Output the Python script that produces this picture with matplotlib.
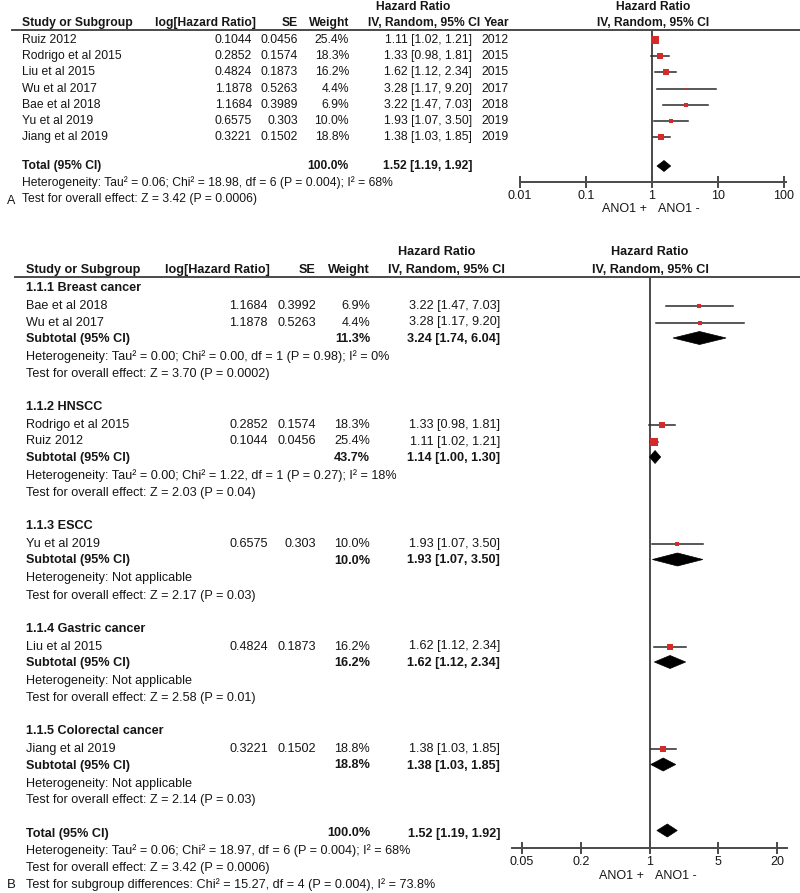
import matplotlib
matplotlib.use('Agg')
import matplotlib.pyplot as plt
import numpy as np
from matplotlib.patches import Polygon
from matplotlib.ticker import NullLocator

plt.rcParams['font.family'] = ['Liberation Sans', 'DejaVu Sans']

# ---------------- Panel A data ----------------
studies_A = ["Ruiz 2012", "Rodrigo et al 2015", "Liu et al 2015", "Wu et al 2017",
             "Bae et al 2018", "Yu et al 2019", "Jiang et al 2019"]
loghr_A = ["0.1044", "0.2852", "0.4824", "1.1878", "1.1684", "0.6575", "0.3221"]
se_A = ["0.0456", "0.1574", "0.1873", "0.5263", "0.3989", "0.303", "0.1502"]
weight_A = [25.4, 18.3, 16.2, 4.4, 6.9, 10.0, 18.8]
hr_A = [1.11, 1.33, 1.62, 3.28, 3.22, 1.93, 1.38]
lo_A = [1.02, 0.98, 1.12, 1.17, 1.47, 1.07, 1.03]
hi_A = [1.21, 1.81, 2.34, 9.20, 7.03, 3.50, 1.85]
year_A = [2012, 2015, 2015, 2017, 2018, 2019, 2019]
total_A = [1.52, 1.19, 1.92]
total_w_A = 100.0
het_A = "Heterogeneity: Tau² = 0.06; Chi² = 18.98, df = 6 (P = 0.004); I² = 68%"
z_A = "Test for overall effect: Z = 3.42 (P = 0.0006)"
ticks_A = [0.01, 0.1, 1, 10, 100]
ticklabels_A = ["0.01", "0.1", "1", "10", "100"]

# ---------------- Panel B data ----------------
groups_B = ["1.1.1 Breast cancer", "1.1.2 HNSCC", "1.1.3 ESCC",
            "1.1.4 Gastric cancer", "1.1.5 Colorectal cancer"]
names_B = [["Bae et al 2018", "Wu et al 2017"], ["Rodrigo et al 2015", "Ruiz 2012"],
           ["Yu et al 2019"], ["Liu et al 2015"], ["Jiang et al 2019"]]
loghr_B = [["1.1684", "1.1878"], ["0.2852", "0.1044"], ["0.6575"], ["0.4824"], ["0.3221"]]
se_B = [["0.3992", "0.5263"], ["0.1574", "0.0456"], ["0.303"], ["0.1873"], ["0.1502"]]
weight_B = [[6.9, 4.4], [18.3, 25.4], [10.0], [16.2], [18.8]]
hr_B = [[3.22, 3.28], [1.33, 1.11], [1.93], [1.62], [1.38]]
lo_B = [[1.47, 1.17], [0.98, 1.02], [1.07], [1.12], [1.03]]
hi_B = [[7.03, 9.20], [1.81, 1.21], [3.50], [2.34], [1.85]]
sub_w_B = [11.3, 43.7, 10.0, 16.2, 18.8]
sub_hr_B = [3.24, 1.14, 1.93, 1.62, 1.38]
sub_lo_B = [1.74, 1.00, 1.07, 1.12, 1.03]
sub_hi_B = [6.04, 1.30, 3.50, 2.34, 1.85]
sub_het_B = ["Heterogeneity: Tau² = 0.00; Chi² = 0.00, df = 1 (P = 0.98); I² = 0%",
             "Heterogeneity: Tau² = 0.00; Chi² = 1.22, df = 1 (P = 0.27); I² = 18%",
             "Heterogeneity: Not applicable",
             "Heterogeneity: Not applicable",
             "Heterogeneity: Not applicable"]
sub_z_B = ["Test for overall effect: Z = 3.70 (P = 0.0002)",
           "Test for overall effect: Z = 2.03 (P = 0.04)",
           "Test for overall effect: Z = 2.17 (P = 0.03)",
           "Test for overall effect: Z = 2.58 (P = 0.01)",
           "Test for overall effect: Z = 2.14 (P = 0.03)"]
total_B = [1.52, 1.19, 1.92]
total_w_B = 100.0
het_B = "Heterogeneity: Tau² = 0.06; Chi² = 18.97, df = 6 (P = 0.004); I² = 68%"
z_B = "Test for overall effect: Z = 3.42 (P = 0.0006)"
subdiff_B = "Test for subgroup differences: Chi² = 15.27, df = 4 (P = 0.004), I² = 73.8%"
ticks_B = [0.05, 0.2, 1, 5, 20]
ticklabels_B = ["0.05", "0.2", "1", "5", "20"]

# ---------------- Layout ----------------
W, H = 800, 893
fig = plt.figure(figsize=(W / 100, H / 100), dpi=100)
ov = fig.add_axes([0, 0, 1, 1])
ov.set_xlim(0, W)
ov.set_ylim(H, 0)
ov.axis('off')

TXT = '#161616'
LINE = '#4a4a4a'
RED = '#d42a2a'


def t(x, y, s, ha='left', bold=False, size=8.7):
    ov.text(x, y, s, ha=ha, va='center', fontsize=size,
            fontweight='bold' if bold else 'normal', color=TXT)


def fmt_ci(h, l, u):
    return f"{h:.2f} [{l:.2f}, {u:.2f}]"


def forest_axes(x0, x1, y0, y1, ticks, labels, t0px, t1px):
    ax = fig.add_axes([x0 / W, 1 - y1 / H, (x1 - x0) / W, (y1 - y0) / H])
    dec = (np.log10(ticks[-1]) - np.log10(ticks[0])) / (t1px - t0px)
    lo = 10 ** (np.log10(ticks[0]) - (t0px - x0) * dec)
    hi = 10 ** (np.log10(ticks[-1]) + (x1 - t1px) * dec)
    ax.set_xscale('log')
    ax.set_xlim(lo, hi)
    ax.set_ylim(y1, y0)
    ax.patch.set_alpha(0)
    for s in ['top', 'right', 'left']:
        ax.spines[s].set_visible(False)
    ax.spines['bottom'].set_color(LINE)
    ax.spines['bottom'].set_linewidth(1.4)
    ax.set_yticks([])
    ax.set_xticks(ticks)
    ax.set_xticklabels(labels)
    ax.xaxis.set_minor_locator(NullLocator())
    ax.tick_params(axis='x', direction='inout', length=8, width=1.4, color=LINE,
                   labelsize=9, labelcolor=TXT, pad=2)
    ax.axvline(1, color=LINE, lw=1.4, zorder=1)
    return ax


def study(ax, y, h, l, u, w, k=1.5):
    ax.plot([l, u], [y, y], color='#2a2a2a', lw=1.1, zorder=2)
    side_px = k * np.sqrt(w)
    ax.plot([h], [y], marker='s', color=RED, markersize=side_px * 0.72,
            markeredgewidth=0, zorder=3)


def diamond(ax, y, h, l, u, hh):
    ax.add_patch(Polygon([(l, y), (h, y - hh), (u, y), (h, y + hh)],
                         closed=True, facecolor='black', edgecolor='black',
                         lw=0.5, zorder=3))


# ================= Panel A =================
fsA = 8.7
t(413, 7, "Hazard Ratio", ha='center', bold=True, size=fsA)
t(653, 7, "Hazard Ratio", ha='center', bold=True, size=fsA)
hyA = 23
t(22, hyA, "Study or Subgroup", bold=True, size=fsA)
t(155, hyA, "log[Hazard Ratio]", bold=True, size=fsA)
t(298, hyA, "SE", ha='right', bold=True, size=fsA)
t(349, hyA, "Weight", ha='right', bold=True, size=fsA)
t(480, hyA, "IV, Random, 95% CI", ha='right', bold=True, size=fsA)
t(509, hyA, "Year", ha='right', bold=True, size=fsA)
t(653, hyA, "IV, Random, 95% CI", ha='center', bold=True, size=fsA)
ov.plot([12, 800], [30, 30], color=LINE, lw=1.4)

axA = forest_axes(520, 786, 30, 182, ticks_A, ticklabels_A, 520, 784)
rowsA = [40 + 16.2 * i for i in range(len(studies_A))]
for i, y in enumerate(rowsA):
    t(22, y, studies_A[i], size=fsA)
    t(252, y, loghr_A[i], ha='right', size=fsA)
    t(298, y, se_A[i], ha='right', size=fsA)
    t(349, y, f"{weight_A[i]:.1f}%", ha='right', size=fsA)
    t(472, y, fmt_ci(hr_A[i], lo_A[i], hi_A[i]), ha='right', size=fsA)
    t(509, y, str(year_A[i]), ha='right', size=fsA)
    study(axA, y, hr_A[i], lo_A[i], hi_A[i], weight_A[i], k=1.4)

yT = 166
t(22, yT, "Total (95% CI)", bold=True, size=fsA)
t(349, yT, f"{total_w_A:.1f}%", ha='right', bold=True, size=fsA)
t(472, yT, fmt_ci(*total_A), ha='right', bold=True, size=fsA)
diamond(axA, yT, total_A[0], total_A[1], total_A[2], 5.5)
t(22, 183, het_A, size=fsA)
t(22, 199, z_A, size=fsA)
t(7, 201, "A", size=9)
t(647, 209, "ANO1 +", ha='right', size=9)
t(658, 209, "ANO1 -", ha='left', size=9)

# ================= Panel B =================
fsB = 9.1
t(437, 252, "Hazard Ratio", ha='center', bold=True, size=fsB)
t(650, 252, "Hazard Ratio", ha='center', bold=True, size=fsB)
hyB = 270
t(26, hyB, "Study or Subgroup", bold=True, size=fsB)
t(165, hyB, "log[Hazard Ratio]", bold=True, size=fsB)
t(316, hyB, "SE", ha='right', bold=True, size=fsB)
t(370, hyB, "Weight", ha='right', bold=True, size=fsB)
t(505, hyB, "IV, Random, 95% CI", ha='right', bold=True, size=fsB)
t(650, hyB, "IV, Random, 95% CI", ha='center', bold=True, size=fsB)
ov.plot([15, 800], [277, 277], color=LINE, lw=1.4)

axB = forest_axes(512, 787, 277, 848, ticks_B, ticklabels_B, 522, 777)

y = 288
for g in range(len(groups_B)):
    t(26, y, groups_B[g], bold=True, size=fsB)
    y += 18
    for j in range(len(names_B[g])):
        t(26, y, names_B[g][j], size=fsB)
        t(268, y, loghr_B[g][j], ha='right', size=fsB)
        t(316, y, se_B[g][j], ha='right', size=fsB)
        t(370, y, f"{weight_B[g][j]:.1f}%", ha='right', size=fsB)
        t(500, y, fmt_ci(hr_B[g][j], lo_B[g][j], hi_B[g][j]), ha='right', size=fsB)
        study(axB, y, hr_B[g][j], lo_B[g][j], hi_B[g][j], weight_B[g][j])
        y += 16.5
    t(26, y, "Subtotal (95% CI)", bold=True, size=fsB)
    t(370, y, f"{sub_w_B[g]:.1f}%", ha='right', bold=True, size=fsB)
    t(500, y, fmt_ci(sub_hr_B[g], sub_lo_B[g], sub_hi_B[g]), ha='right', bold=True, size=fsB)
    diamond(axB, y - 1, sub_hr_B[g], sub_lo_B[g], sub_hi_B[g], 6.5)
    y += 18
    t(26, y, sub_het_B[g], size=fsB)
    y += 17
    t(26, y, sub_z_B[g], size=fsB)
    y += 33

t(26, y, "Total (95% CI)", bold=True, size=fsB)
t(370, y, f"{total_w_B:.1f}%", ha='right', bold=True, size=fsB)
t(500, y, fmt_ci(*total_B), ha='right', bold=True, size=fsB)
diamond(axB, y - 3, total_B[0], total_B[1], total_B[2], 6.5)
t(26, y + 17.5, het_B, size=fsB)
t(26, y + 34.5, z_B, size=fsB)
t(26, y + 51.5, subdiff_B, size=fsB)
t(7, y + 51.5, "B", size=9.5)
t(644, 876, "ANO1 +", ha='right', size=9)
t(655, 876, "ANO1 -", ha='left', size=9)

fig.savefig('out.png', dpi=100)
